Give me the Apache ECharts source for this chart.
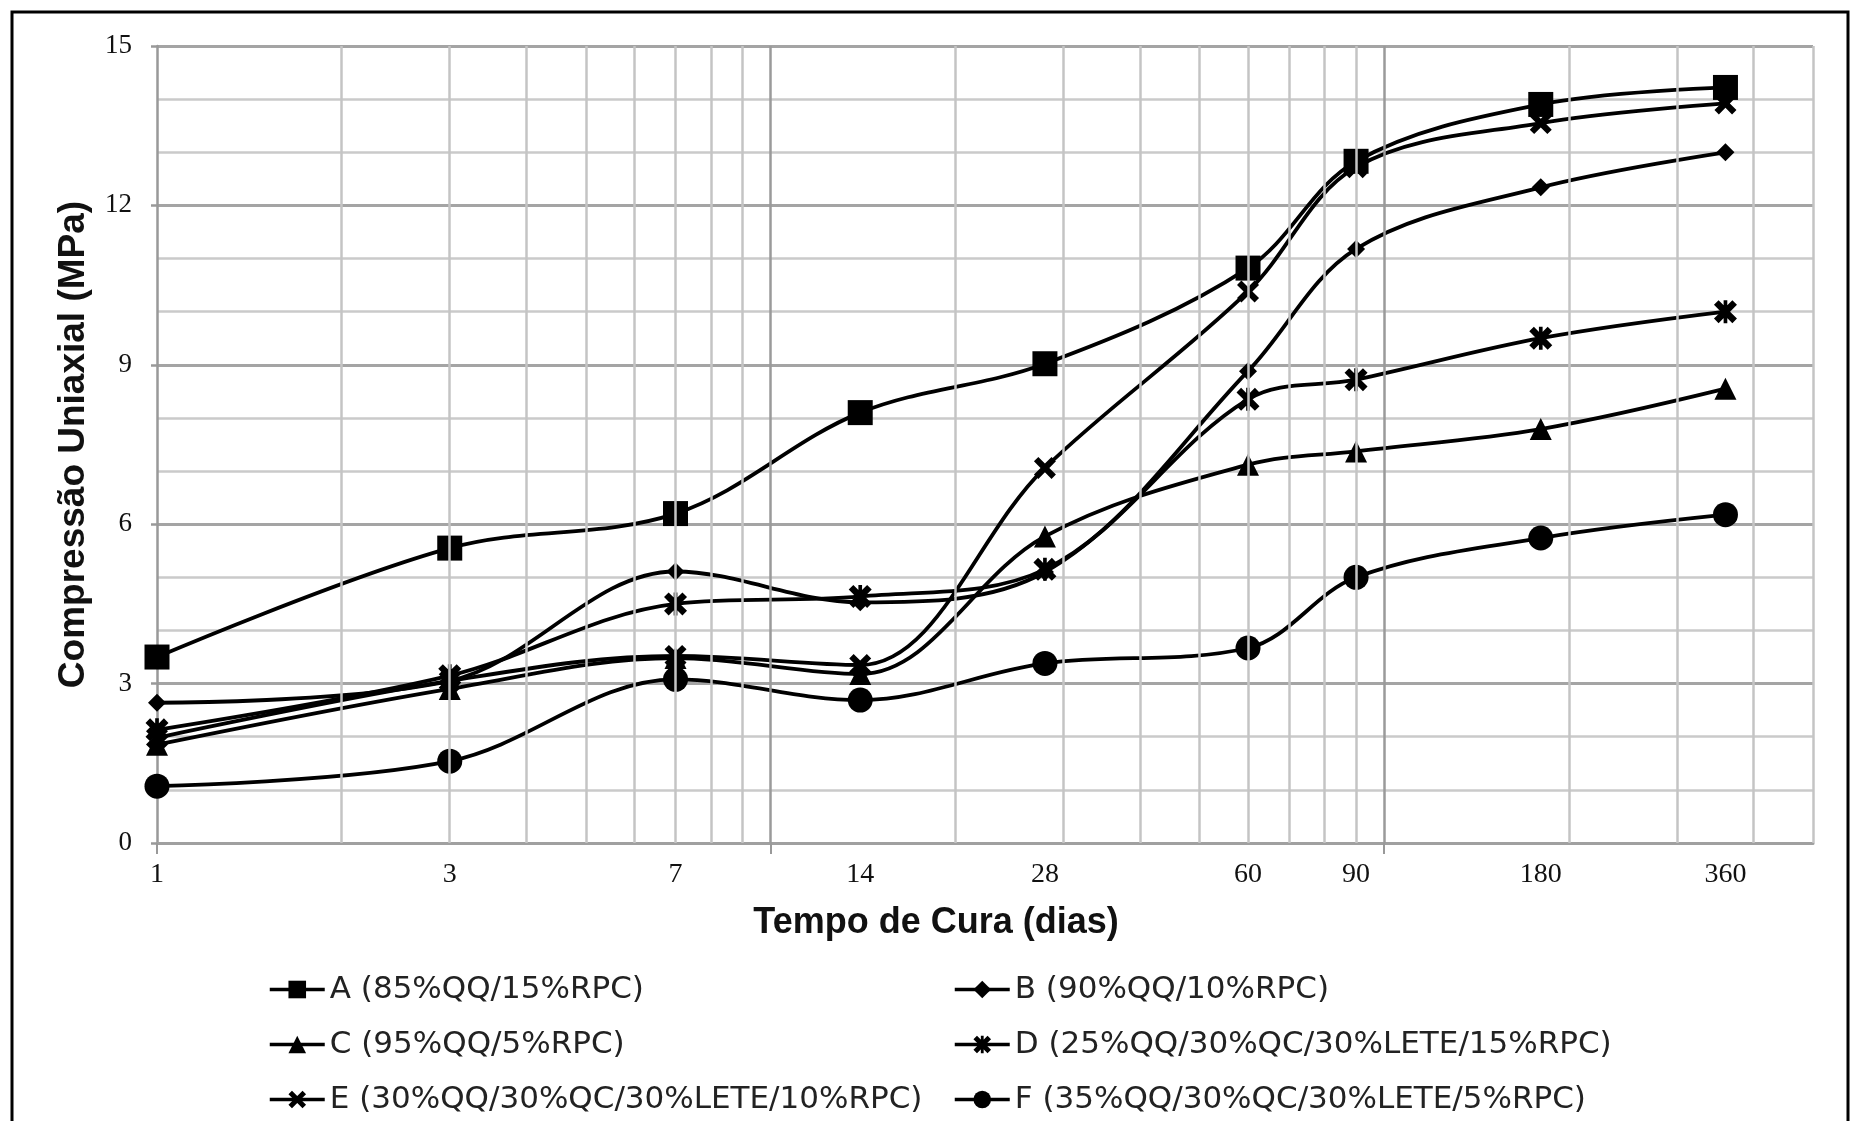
<!DOCTYPE html>
<html>
<head>
<meta charset="utf-8">
<script src="https://cdn.jsdelivr.net/npm/echarts@6/dist/echarts.min.js"></script>
<style>
html, body { margin: 0; padding: 0; background: #fff; }
#chart { width: 1858px; height: 1121px; }
</style>
</head>
<body>
<div id="chart"></div>
<script>
// dias de cura
var days = [1, 3, 7, 14, 28, 60, 90, 180, 360];
// resistencia (MPa) por mistura
var serieA = [3.5, 5.55, 6.2, 8.1, 9.02, 10.82, 12.83, 13.9, 14.22];
var serieB = [2.64, 3.05, 5.11, 4.53, 5.1, 8.88, 11.18, 12.34, 13.0];
var serieC = [1.85, 2.9, 3.48, 3.18, 5.77, 7.12, 7.37, 7.79, 8.55];
var serieD = [2.13, 3.15, 4.5, 4.64, 5.15, 8.35, 8.72, 9.5, 10.0];
var serieE = [1.98, 3.05, 3.52, 3.35, 7.06, 10.38, 12.72, 13.55, 13.92];
var serieF = [1.07, 1.54, 3.08, 2.69, 3.38, 3.67, 5.0, 5.74, 6.18];
var names = [
	'A (85%QQ/15%RPC)',
	'B (90%QQ/10%RPC)',
	'C (95%QQ/5%RPC)',
	'D (25%QQ/30%QC/30%LETE/15%RPC)',
	'E (30%QQ/30%QC/30%LETE/10%RPC)',
	'F (35%QQ/30%QC/30%LETE/5%RPC)'
];
// linhas verticais da grade logaritmica
var gridX = [2, 3, 4, 5, 6, 7, 8, 9, 10, 20, 30, 40, 50, 60, 70, 80, 90, 100, 200, 300, 400, 500];
var majorX = [1, 10, 100];

var xMark = 'path://M0,2L2,0L5,3L8,0L10,2L7,5L10,8L8,10L5,7L2,10L0,8L3,5Z';
var starMark = 'path://M0,2L2,0L5,3L8,0L10,2L7,5L10,8L8,10L5,7L2,10L0,8L3,5Z M4.2,0L5.8,0L5.8,10L4.2,10Z';

function pairs(vals) {
	var out = [];
	for (var i = 0; i < days.length; i++) {
		out.push([days[i], vals[i]]);
	}
	return out;
}

function mkSeries(name, vals, symbol, size) {
	return {
		name : name,
		type : 'line',
		smooth : 0.35,
		data : pairs(vals),
		symbol : symbol,
		symbolSize : size,
		itemStyle : { color : '#000' },
		lineStyle : { color : '#000', width : 3.8 },
		z : 3
	};
}

var chart = echarts.init(document.getElementById('chart'));
var legendText = { fontFamily : 'DejaVu Sans', fontSize : 31, color : '#222', lineHeight : 30 };

var option = {
	animation : false,
	backgroundColor : '#fff',
	grid : { left : 157, right : 45, top : 46, bottom : 278 },
	xAxis : {
		type : 'log',
		logBase : 10,
		min : 1,
		max : 500,
		name : 'Tempo de Cura (dias)',
		nameLocation : 'middle',
		nameGap : 62,
		nameTextStyle : {
			fontFamily : 'Liberation Sans', fontSize : 36, fontWeight : 'bold', color : '#111',
			padding : [0, 98, 0, 0]
		},
		axisLine : { show : true, lineStyle : { color : '#a0a0a0', width : 3 } },
		axisTick : { show : true, customValues : majorX, length : 11, lineStyle : { color : '#999', width : 2 } },
		axisLabel : {
			customValues : days,
			margin : 18,
			fontFamily : 'Liberation Serif', fontSize : 28, color : '#111'
		},
		splitLine : { show : false }
	},
	yAxis : {
		type : 'value',
		min : 0,
		max : 15,
		interval : 3,
		name : 'Compressão Uniaxial (MPa)',
		nameLocation : 'middle',
		nameGap : 65,
		nameTextStyle : { fontFamily : 'Liberation Sans', fontSize : 37, fontWeight : 'bold', color : '#111' },
		axisLine : { show : true, lineStyle : { color : '#999', width : 2.5 } },
		axisTick : { show : true, length : 6, lineStyle : { color : '#999', width : 2.5 } },
		axisLabel : { margin : 25, fontFamily : 'Liberation Serif', fontSize : 27, color : '#111' },
		splitLine : { show : true, lineStyle : { color : '#a4a4a4', width : 3 } },
		minorTick : { show : false, splitNumber : 3 },
		minorSplitLine : { show : true, lineStyle : { color : '#cacaca', width : 2.5 } }
	},
	legend : [ {
		orient : 'vertical',
		left : 263,
		top : 969,
		itemWidth : 55,
		itemHeight : 22,
		itemGap : 24,
		lineStyle : { width : 3.5, color : '#000' },
		textStyle : legendText,
		data : [ names[0], names[2], names[4] ]
	}, {
		orient : 'vertical',
		left : 948,
		top : 969,
		itemWidth : 55,
		itemHeight : 22,
		itemGap : 24,
		lineStyle : { width : 3.5, color : '#000' },
		textStyle : legendText,
		data : [ names[1], names[3], names[5] ]
	} ],
	graphic : [ {
		type : 'rect',
		shape : { x : 12, y : 12, width : 1836, height : 1200 },
		style : { fill : null, stroke : '#000', lineWidth : 3 },
		silent : true
	} ],
	series : [ {
		name : 'grade',
		type : 'line',
		data : [],
		z : 1,
		markLine : {
			silent : true,
			symbol : [ 'none', 'none' ],
			label : { show : false },
			lineStyle : { type : 'solid', color : '#c4c4c4', width : 2.5 },
			data : gridX.map(function(v) {
				if (v === 10 || v === 100) {
					return { xAxis : v, lineStyle : { type : 'solid', color : '#9a9a9a', width : 2.5 } };
				}
				return { xAxis : v };
			})
		}
	},
		mkSeries(names[0], serieA, 'rect', 25),
		mkSeries(names[1], serieB, 'diamond', 18),
		mkSeries(names[2], serieC, 'triangle', 22),
		mkSeries(names[3], serieD, starMark, 23),
		mkSeries(names[4], serieE, xMark, 22),
		mkSeries(names[5], serieF, 'circle', 25)
	]
};
chart.setOption(option);
</script>
</body>
</html>
